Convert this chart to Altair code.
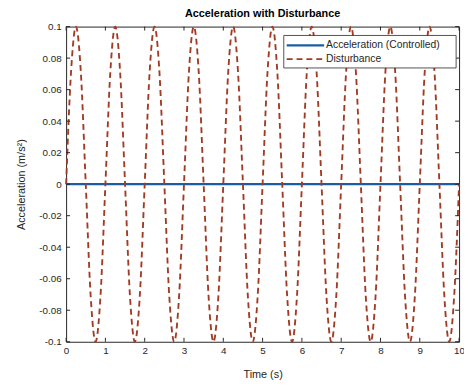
import altair as alt
import pandas as pd

# ---- data ----
series_names = ["Acceleration (Controlled)", "Disturbance"]
series_colors = ["#1A5CA6", "#A23B24"]

# controlled acceleration: flat at ~0 over the whole run
ctrl_time = [0, 1, 2, 3, 4, 5, 6, 7, 8, 9, 10]
ctrl_acc = [0, 0, 0, 0, 0, 0, 0, 0, 0, 0, 0]

# disturbance, read every 1/8 s (peaks at ~0.25+k, troughs at ~0.75+k)
dist_time = [i * 0.125 for i in range(81)]
dist_acc = [
    0, 0.071, 0.1, 0.071, 0, -0.071, -0.1, -0.071,
    0, 0.071, 0.1, 0.071, 0, -0.071, -0.1, -0.071,
    0, 0.071, 0.1, 0.071, 0, -0.071, -0.1, -0.071,
    0, 0.071, 0.1, 0.071, 0, -0.071, -0.1, -0.071,
    0, 0.071, 0.1, 0.071, 0, -0.071, -0.1, -0.071,
    0, 0.071, 0.1, 0.071, 0, -0.071, -0.1, -0.071,
    0, 0.071, 0.1, 0.071, 0, -0.071, -0.1, -0.071,
    0, 0.071, 0.1, 0.071, 0, -0.071, -0.1, -0.071,
    0, 0.071, 0.1, 0.071, 0, -0.071, -0.1, -0.071,
    0, 0.071, 0.1, 0.071, 0, -0.071, -0.1, -0.071,
    0,
]

x_ticks = [0, 1, 2, 3, 4, 5, 6, 7, 8, 9, 10]
y_ticks = [-0.1, -0.08, -0.06, -0.04, -0.02, 0, 0.02, 0.04, 0.06, 0.08, 0.1]

# ---- build tables ----
df = pd.concat([
    pd.DataFrame({"t": ctrl_time, "a": ctrl_acc, "series": series_names[0]}),
    pd.DataFrame({"t": dist_time, "a": dist_acc, "series": series_names[1]}),
], ignore_index=True)
xt = pd.DataFrame({"t": x_ticks})
yt = pd.DataFrame({"a": y_ticks})
one = pd.DataFrame({"k": [0]})

W, H = 399, 320
FONT = "Liberation Sans"
AX = "#262626"

xscale = alt.Scale(domain=[0, 10], nice=False)
yscale = alt.Scale(domain=[-0.1, 0.1], nice=False)
xaxis = alt.Axis(values=x_ticks, title="Time (s)", format="d",
                 ticks=False, domain=False, grid=False,
                 labelOverlap=False, labelFlush=False,
                 labelPadding=4, titlePadding=13)
yaxis = alt.Axis(values=y_ticks, title="Acceleration (m/s²)",
                 labelExpr="replace(format(datum.value, '~g'), '\u2212', '-')",
                 ticks=False, domain=False, grid=False,
                 labelOverlap=False, labelFlush=False,
                 labelPadding=5, titlePadding=12)

lines = alt.Chart(df).mark_line(interpolate="monotone").encode(
    x=alt.X("t:Q", scale=xscale, axis=xaxis),
    y=alt.Y("a:Q", scale=yscale, axis=yaxis),
    color=alt.Color("series:N",
                    scale=alt.Scale(domain=series_names, range=series_colors),
                    legend=None),
    strokeDash=alt.StrokeDash("series:N",
                              scale=alt.Scale(domain=series_names, range=[[1, 0], [6, 4]]),
                              legend=None),
    strokeWidth=alt.StrokeWidth("series:N",
                                scale=alt.Scale(domain=series_names, range=[2.4, 1.9]),
                                legend=None),
)

tick_color = AX
bottom_ticks = alt.Chart(xt).mark_rule(color=tick_color, strokeWidth=1).encode(
    x=alt.X("t:Q", scale=xscale, axis=xaxis), y=alt.value(H), y2=alt.value(H - 4))
top_ticks = alt.Chart(xt).mark_rule(color=tick_color, strokeWidth=1).encode(
    x=alt.X("t:Q", scale=xscale, axis=xaxis), y=alt.value(0), y2=alt.value(4))
left_ticks = alt.Chart(yt).mark_rule(color=tick_color, strokeWidth=1).encode(
    y=alt.Y("a:Q", scale=yscale, axis=yaxis), x=alt.value(0), x2=alt.value(4))
right_ticks = alt.Chart(yt).mark_rule(color=tick_color, strokeWidth=1).encode(
    y=alt.Y("a:Q", scale=yscale, axis=yaxis), x=alt.value(W), x2=alt.value(W - 4))

# ---- legend box (MATLAB style, inside the axes, top right) ----
LX0, LX1, LY0, LY1 = 221, 396, 9, 42
ROW1, ROW2 = 19, 33
SYM0, SYM1, TXT = 224, 262, 264
leg_box = alt.Chart(one).mark_rect(fill="white", stroke=AX, strokeWidth=0.8).encode(
    x=alt.value(LX0), x2=alt.value(LX1), y=alt.value(LY0), y2=alt.value(LY1))
leg_sym1 = alt.Chart(one).mark_rule(color=series_colors[0], strokeWidth=2.4).encode(
    x=alt.value(SYM0), x2=alt.value(SYM1), y=alt.value(ROW1))
leg_sym2 = alt.Chart(one).mark_rule(color=series_colors[1], strokeWidth=1.9,
                                    strokeDash=[6, 4]).encode(
    x=alt.value(SYM0), x2=alt.value(SYM1), y=alt.value(ROW2))
leg_txt1 = alt.Chart(one).mark_text(align="left", baseline="middle", font=FONT,
                                    fontSize=10.5, fontWeight="normal", color=AX).encode(
    x=alt.value(TXT), y=alt.value(ROW1), text=alt.value(series_names[0]))
leg_txt2 = alt.Chart(one).mark_text(align="left", baseline="middle", font=FONT,
                                    fontSize=10.5, fontWeight="normal", color=AX).encode(
    x=alt.value(TXT), y=alt.value(ROW2), text=alt.value(series_names[1]))

chart = alt.layer(
    lines, bottom_ticks, top_ticks, left_ticks, right_ticks,
    leg_box, leg_sym1, leg_sym2, leg_txt1, leg_txt2,
).properties(
    width=W, height=H,
    title=alt.Title("Acceleration with Disturbance", fontSize=11, fontWeight="bold",
                    font=FONT, color="#000000", offset=3, anchor="middle"),
    padding={"left": 59, "top": 16, "right": 5, "bottom": 40},
    autosize=alt.AutoSizeParams(type="none"),
).configure_view(
    stroke=AX, strokeWidth=1
).configure_axis(
    labelFont=FONT, titleFont=FONT, labelFontSize=10, titleFontSize=11,
    labelColor=AX, titleColor=AX, titleFontWeight="normal",
)

chart.save("out.html", embed_options={"renderer": "svg", "actions": False})
